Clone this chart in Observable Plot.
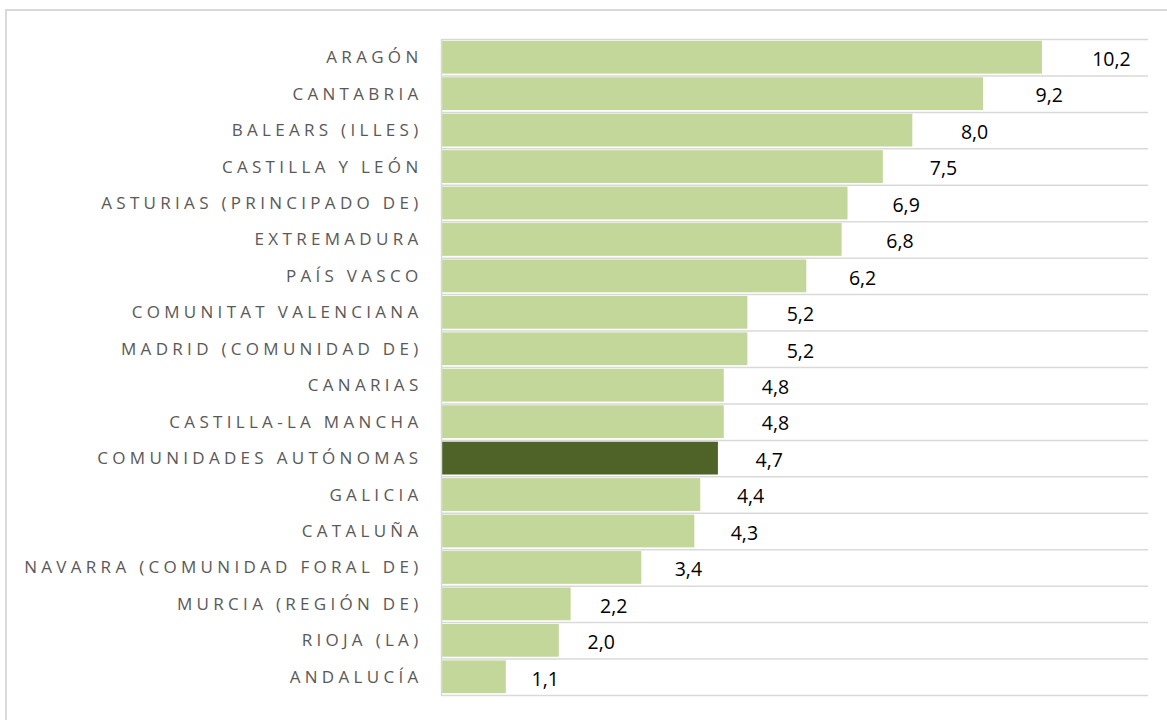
<!DOCTYPE html>
<html>
<head>
<meta charset="utf-8">
<script src="https://cdn.jsdelivr.net/npm/d3@7"></script>
<script src="https://cdn.jsdelivr.net/npm/@observablehq/plot@0.6"></script>
<style>
  html, body { margin: 0; padding: 0; background: #fff; }
  #wrap { position: relative; width: 1167px; height: 720px; overflow: hidden; }
  #frame { position: absolute; left: 5px; top: 9px; width: 1300px; height: 900px; border: 2px solid #d9d9d9; box-sizing: border-box; }
  #chart { position: absolute; left: 0; top: 0; }
</style>
</head>
<body>
<div id="wrap"><div id="frame"></div><div id="chart"></div></div>
<script>
const categories = [
  "ARAGÓN", "CANTABRIA", "BALEARS (ILLES)", "CASTILLA Y LEÓN",
  "ASTURIAS (PRINCIPADO DE)", "EXTREMADURA", "PAÍS VASCO",
  "COMUNITAT VALENCIANA", "MADRID (COMUNIDAD DE)", "CANARIAS",
  "CASTILLA-LA MANCHA", "COMUNIDADES AUTÓNOMAS", "GALICIA", "CATALUÑA",
  "NAVARRA (COMUNIDAD FORAL DE)", "MURCIA (REGIÓN DE)", "RIOJA (LA)", "ANDALUCÍA"
];
const values = [10.2, 9.2, 8.0, 7.5, 6.9, 6.8, 6.2, 5.2, 5.2, 4.8, 4.8, 4.7, 4.4, 4.3, 3.4, 2.2, 2.0, 1.1];
const highlight = "COMUNIDADES AUTÓNOMAS";

const data = categories.map((c, i) => ({category: c, value: values[i]}));

const W = 1167, H = 720, mT = 39, mB = 25;
const step = (H - mT - mB) / categories.length;
const fmt = v => v.toFixed(1).replace(".", ",");

const chart = Plot.plot({
  width: W,
  height: H,
  marginLeft: 441,
  marginRight: 19,
  marginTop: mT,
  marginBottom: mB,
  style: {fontFamily: "'Open Sans', sans-serif", background: "transparent"},
  x: {domain: [0, 12], axis: null},
  y: {domain: categories, paddingInner: 0.1, paddingOuter: 0.05, round: false, label: null},
  marks: [
    Plot.ruleY(categories, {y: d => d, dy: -step / 2, stroke: "#d9d9d9", strokeWidth: 1.5}),
    Plot.ruleY([categories[categories.length - 1]], {y: d => d, dy: step / 2, stroke: "#d9d9d9", strokeWidth: 1.5}),
    Plot.barX(data, {
      y: "category", x: "value",
      fill: d => d.category === highlight ? "#4f6228" : "#c4d79b"
    }),
    Plot.ruleX([0], {stroke: "#d9d9d9", strokeWidth: 1.5}),
    Plot.text(data, {
      y: "category",
      x: d => d.value * 1.056 + 0.6,
      text: d => fmt(d.value),
      fontSize: 19.5,
      dy: 2,
      fill: "#000",
      textAnchor: "middle"
    }),
    Plot.axisY({
      tickSize: 0,
      tickPadding: 19,
      fontSize: 17,
      fill: "#595959",
      label: null
    })
  ]
});
chart.querySelectorAll("g[aria-label='y-axis tick label']").forEach(el => {
  el.style.letterSpacing = "4.3px";
});
document.getElementById("chart").appendChild(chart);
</script>
</body>
</html>
